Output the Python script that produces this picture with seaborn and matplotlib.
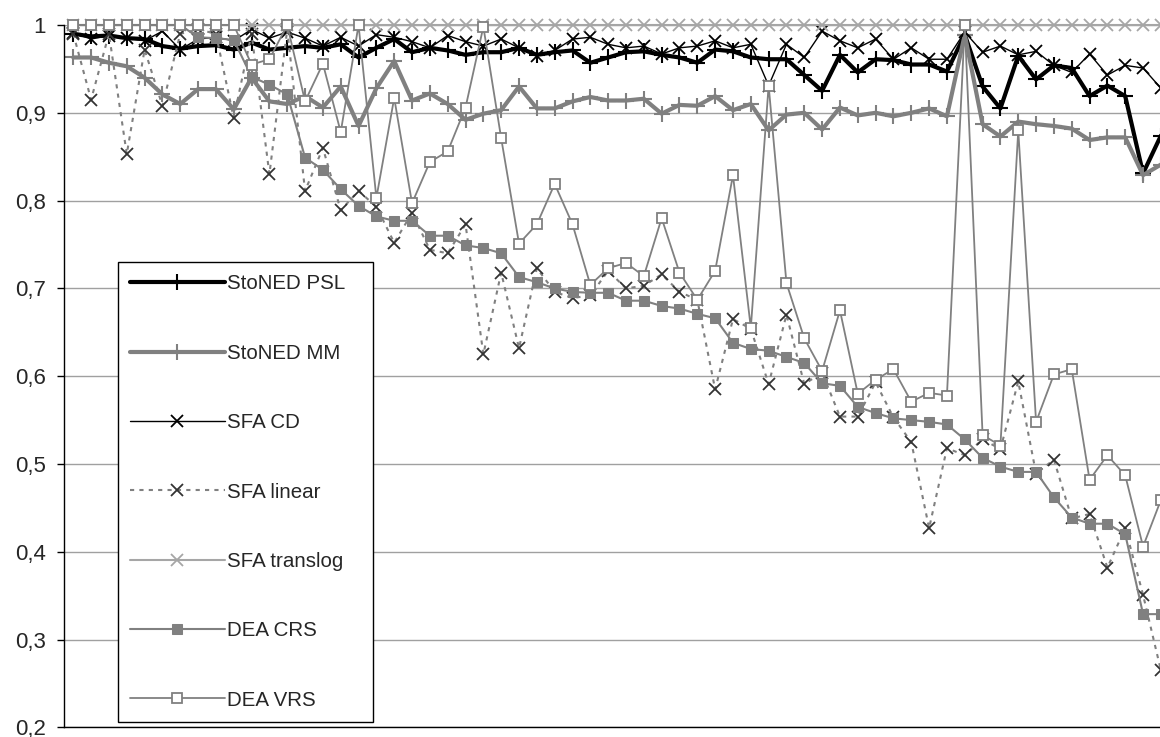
import matplotlib
matplotlib.use("Agg")
import matplotlib.pyplot as plt
import numpy as np
import pandas as pd
import seaborn as sns

# efficiency scores for 62 units
stoned_psl = [0.990, 0.987, 0.988, 0.985, 0.984, 0.976, 0.973, 0.976, 0.977, 0.972,
              0.980, 0.972, 0.974, 0.976, 0.974, 0.978, 0.963, 0.974, 0.984, 0.969,
              0.974, 0.971, 0.966, 0.969, 0.969, 0.974, 0.966, 0.969, 0.971, 0.957,
              0.963, 0.969, 0.970, 0.966, 0.963, 0.957, 0.972, 0.970, 0.963, 0.961,
              0.961, 0.943, 0.925, 0.966, 0.946, 0.961, 0.960, 0.955, 0.955, 0.947,
              0.989, 0.930, 0.905, 0.965, 0.938, 0.954, 0.951, 0.919, 0.931, 0.919,
              0.831, 0.874]
stoned_mm = [0.963, 0.963, 0.957, 0.953, 0.940, 0.921, 0.910, 0.927, 0.927, 0.904,
             0.940, 0.913, 0.910, 0.919, 0.906, 0.930, 0.885, 0.928, 0.959, 0.914,
             0.922, 0.910, 0.892, 0.899, 0.903, 0.930, 0.905, 0.905, 0.913, 0.918,
             0.914, 0.914, 0.916, 0.899, 0.909, 0.908, 0.919, 0.903, 0.910, 0.880,
             0.898, 0.900, 0.881, 0.906, 0.897, 0.900, 0.896, 0.900, 0.905, 0.896,
             0.989, 0.887, 0.873, 0.890, 0.887, 0.885, 0.882, 0.869, 0.872, 0.872,
             0.829, 0.841]
sfa_cd = [0.991, 0.984, 0.988, 0.985, 0.982, 0.993, 0.972, 0.984, 0.986, 0.982,
          0.995, 0.985, 0.992, 0.985, 0.976, 0.986, 0.976, 0.989, 0.986, 0.981,
          0.974, 0.988, 0.981, 0.976, 0.984, 0.974, 0.965, 0.971, 0.984, 0.986,
          0.978, 0.974, 0.976, 0.967, 0.974, 0.976, 0.982, 0.974, 0.978, 0.931,
          0.978, 0.963, 0.993, 0.982, 0.974, 0.984, 0.961, 0.974, 0.961, 0.961,
          0.992, 0.969, 0.976, 0.966, 0.970, 0.954, 0.946, 0.967, 0.943, 0.954,
          0.951, 0.928]
sfa_linear = [0.990, 0.915, 0.990, 0.853, 0.972, 0.908, 0.990, 0.995, 0.990, 0.894,
              0.990, 0.830, 0.995, 0.811, 0.860, 0.789, 0.811, 0.793, 0.752, 0.786,
              0.744, 0.740, 0.773, 0.625, 0.718, 0.632, 0.723, 0.696, 0.689, 0.692,
              0.720, 0.700, 0.703, 0.716, 0.696, 0.687, 0.585, 0.665, 0.654, 0.591,
              0.670, 0.591, 0.604, 0.554, 0.554, 0.593, 0.553, 0.525, 0.427, 0.518,
              0.510, 0.528, 0.517, 0.594, 0.489, 0.505, 0.438, 0.443, 0.382, 0.427,
              0.351, 0.265]
sfa_translog = [1.0] * 62
dea_crs = [1.0, 1.0, 1.0, 1.0, 1.0, 1.0, 1.0, 0.986, 0.985, 0.983,
           0.941, 0.932, 0.921, 0.849, 0.835, 0.813, 0.794, 0.782, 0.777, 0.777,
           0.760, 0.760, 0.749, 0.746, 0.740, 0.713, 0.707, 0.700, 0.696, 0.695,
           0.695, 0.686, 0.686, 0.680, 0.677, 0.671, 0.666, 0.638, 0.631, 0.629,
           0.622, 0.615, 0.592, 0.589, 0.565, 0.558, 0.552, 0.550, 0.548, 0.545,
           0.528, 0.507, 0.497, 0.491, 0.491, 0.462, 0.439, 0.432, 0.432, 0.420,
           0.329, 0.329]
dea_vrs = [1.0, 1.0, 1.0, 1.0, 1.0, 1.0, 1.0, 1.0, 1.0, 1.0,
           0.955, 0.961, 1.0, 0.913, 0.956, 0.878, 1.0, 0.803, 0.917, 0.797,
           0.844, 0.856, 0.906, 0.998, 0.871, 0.751, 0.773, 0.819, 0.773, 0.704,
           0.723, 0.729, 0.714, 0.780, 0.718, 0.687, 0.720, 0.829, 0.655, 0.931,
           0.706, 0.643, 0.606, 0.675, 0.580, 0.596, 0.608, 0.571, 0.581, 0.578,
           1.0, 0.533, 0.521, 0.880, 0.548, 0.602, 0.608, 0.482, 0.510, 0.487,
           0.406, 0.459]

units = np.arange(len(dea_crs))
df = pd.DataFrame({
    "unit": units,
    "StoNED PSL": stoned_psl,
    "StoNED MM": stoned_mm,
    "SFA CD": sfa_cd,
    "SFA linear": sfa_linear,
    "SFA translog": sfa_translog,
    "DEA CRS": dea_crs,
    "DEA VRS": dea_vrs,
})

sns.set_theme(style="white")
plt.rcParams["font.family"] = ["Liberation Sans", "DejaVu Sans"]

fig = plt.figure(figsize=(11.6, 7.37), dpi=100)
ax = fig.add_axes([64 / 1160, 1 - 727.4 / 737, 1 - 64 / 1160, 702.4 / 737])

grey = "#808080"
styles = {
    "StoNED PSL": dict(color="black", lw=3, marker="+", ms=11, mew=1.5, mec="black"),
    "StoNED MM": dict(color=grey, lw=3, marker="+", ms=11, mew=1.5, mec=grey),
    "SFA CD": dict(color="black", lw=1, marker="x", ms=9, mew=1.3, mec="black"),
    "SFA linear": dict(color=grey, lw=1.5, linestyle=(0, (2, 2.5)), marker="x", ms=9,
                       mew=1.3, mec="#333333"),
    "SFA translog": dict(color="#a6a6a6", lw=1.5, marker="x", ms=9, mew=1.3, mec="#a6a6a6"),
    "DEA CRS": dict(color=grey, lw=1.5, marker="s", ms=7.5, mfc=grey, mec=grey),
    "DEA VRS": dict(color=grey, lw=1.3, marker="s", ms=7.5, mfc="white", mec=grey, mew=1.3),
}

for name, kw in styles.items():
    sns.lineplot(data=df, x="unit", y=name, ax=ax, label=name, clip_on=False, **kw)

ax.set_xlim(-0.52, 60.95)
ax.set_ylim(0.2, 1.0)
ax.set_yticks(np.arange(0.2, 1.01, 0.1))
ax.set_yticklabels(["0,2", "0,3", "0,4", "0,5", "0,6", "0,7", "0,8", "0,9", "1"])
ax.set_xticks([])
ax.set_xlabel("")
ax.set_ylabel("")
ax.yaxis.grid(True, color="#a0a0a0", lw=1)
ax.set_axisbelow(True)
ax.tick_params(axis="y", left=True, length=5, width=1, color="black",
               labelsize=16, pad=8, direction="out")
for s in ["top", "right"]:
    ax.spines[s].set_visible(False)
ax.spines["left"].set_color("black")
ax.spines["bottom"].set_color("black")
ax.spines["left"].set_linewidth(1)
ax.spines["bottom"].set_linewidth(1)

# legend box spans x 118..373 px in the reference
leg = ax.legend(loc="lower left", bbox_to_anchor=(0.049, 0.0077, 255 / 1096, 0.65),
                mode="expand", frameon=True, fancybox=False, framealpha=1,
                edgecolor="black", fontsize=14.8, handlelength=4.6, handletextpad=0.1,
                labelspacing=2.45, borderpad=0.6, borderaxespad=0, numpoints=1)
leg.get_frame().set_linewidth(1)

fig.savefig("out.png", dpi=100)
